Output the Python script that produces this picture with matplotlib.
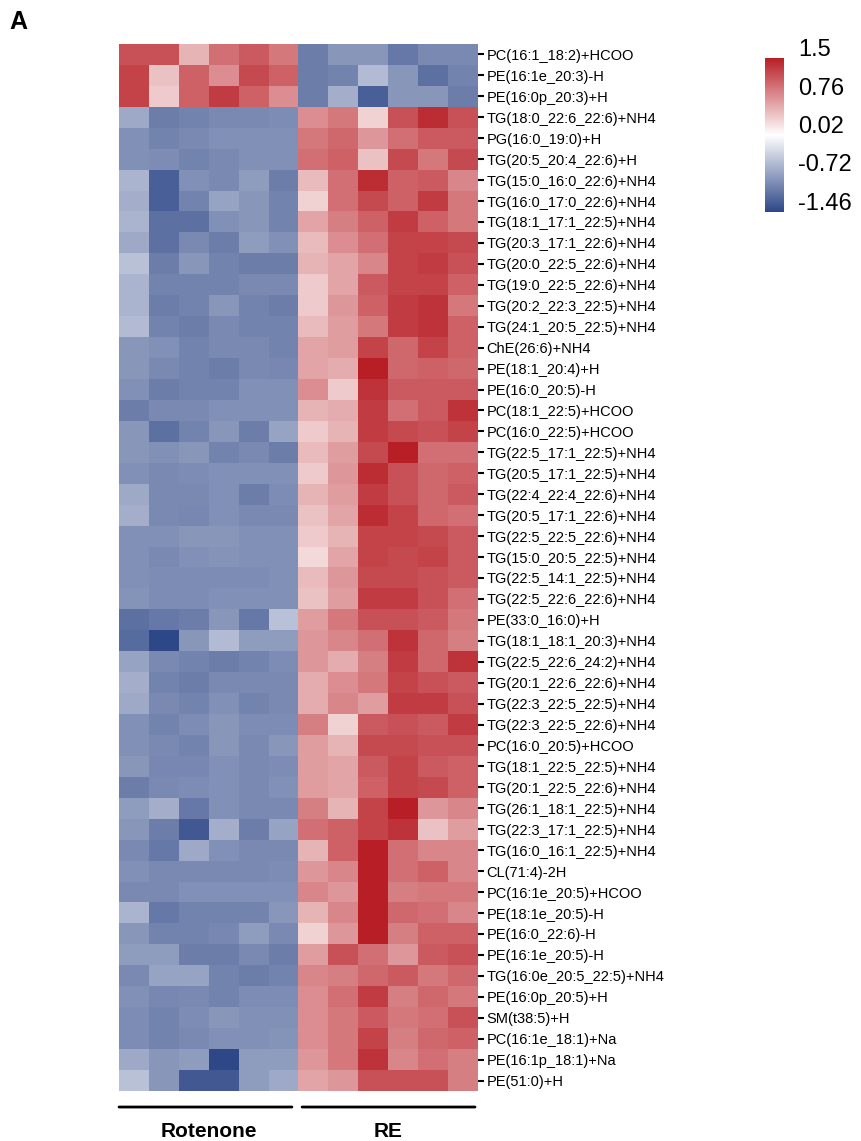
import numpy as np
import matplotlib
matplotlib.use("Agg")
import matplotlib.pyplot as plt
from matplotlib.colors import LinearSegmentedColormap, Normalize

plt.rcParams["font.family"] = ["Liberation Sans", "DejaVu Sans"]

# lipid names, top to bottom
lipids = [
    "PC(16:1_18:2)+HCOO", "PE(16:1e_20:3)-H", "PE(16:0p_20:3)+H",
    "TG(18:0_22:6_22:6)+NH4", "PG(16:0_19:0)+H", "TG(20:5_20:4_22:6)+H",
    "TG(15:0_16:0_22:6)+NH4", "TG(16:0_17:0_22:6)+NH4", "TG(18:1_17:1_22:5)+NH4",
    "TG(20:3_17:1_22:6)+NH4", "TG(20:0_22:5_22:6)+NH4", "TG(19:0_22:5_22:6)+NH4",
    "TG(20:2_22:3_22:5)+NH4", "TG(24:1_20:5_22:5)+NH4", "ChE(26:6)+NH4",
    "PE(18:1_20:4)+H", "PE(16:0_20:5)-H", "PC(18:1_22:5)+HCOO",
    "PC(16:0_22:5)+HCOO", "TG(22:5_17:1_22:5)+NH4", "TG(20:5_17:1_22:5)+NH4",
    "TG(22:4_22:4_22:6)+NH4", "TG(20:5_17:1_22:6)+NH4", "TG(22:5_22:5_22:6)+NH4",
    "TG(15:0_20:5_22:5)+NH4", "TG(22:5_14:1_22:5)+NH4", "TG(22:5_22:6_22:6)+NH4",
    "PE(33:0_16:0)+H", "TG(18:1_18:1_20:3)+NH4", "TG(22:5_22:6_24:2)+NH4",
    "TG(20:1_22:6_22:6)+NH4", "TG(22:3_22:5_22:5)+NH4", "TG(22:3_22:5_22:6)+NH4",
    "PC(16:0_20:5)+HCOO", "TG(18:1_22:5_22:5)+NH4", "TG(20:1_22:5_22:6)+NH4",
    "TG(26:1_18:1_22:5)+NH4", "TG(22:3_17:1_22:5)+NH4", "TG(16:0_16:1_22:5)+NH4",
    "CL(71:4)-2H", "PC(16:1e_20:5)+HCOO", "PE(18:1e_20:5)-H",
    "PE(16:0_22:6)-H", "PE(16:1e_20:5)-H", "TG(16:0e_20:5_22:5)+NH4",
    "PE(16:0p_20:5)+H", "SM(t38:5)+H", "PC(16:1e_18:1)+Na",
    "PE(16:1p_18:1)+Na", "PE(51:0)+H",
]

groups = ["Rotenone", "RE"]

# row z-scores, 6 Rotenone samples
rotenone = [
    [1.2, 1.2, 0.55, 1.0, 1.15, 0.95],
    [1.3, 0.45, 1.1, 0.8, 1.25, 1.1],
    [1.3, 0.4, 1.1, 1.35, 1.1, 0.8],
    [-0.65, -1.0, -0.95, -0.9, -0.9, -0.88],
    [-0.85, -0.95, -0.9, -0.85, -0.85, -0.85],
    [-0.85, -0.88, -0.95, -0.9, -0.85, -0.85],
    [-0.55, -1.25, -0.85, -0.9, -0.75, -1.0],
    [-0.6, -1.25, -0.95, -0.7, -0.8, -0.95],
    [-0.55, -1.1, -1.1, -0.85, -0.8, -0.95],
    [-0.65, -1.1, -0.9, -1.0, -0.75, -0.85],
    [-0.45, -1.0, -0.8, -0.95, -1.0, -1.0],
    [-0.55, -0.95, -0.95, -0.95, -0.9, -0.9],
    [-0.55, -1.0, -0.95, -0.8, -0.95, -1.0],
    [-0.5, -0.95, -1.0, -0.9, -0.95, -0.95],
    [-0.8, -0.85, -0.95, -0.9, -0.9, -0.95],
    [-0.8, -0.9, -0.95, -1.0, -0.9, -0.92],
    [-0.85, -1.0, -0.95, -0.95, -0.85, -0.85],
    [-1.0, -0.9, -0.9, -0.85, -0.85, -0.85],
    [-0.8, -1.1, -0.95, -0.8, -1.0, -0.7],
    [-0.8, -0.85, -0.8, -0.95, -0.9, -1.0],
    [-0.85, -0.9, -0.88, -0.85, -0.85, -0.85],
    [-0.65, -0.9, -0.9, -0.85, -1.0, -0.88],
    [-0.6, -0.9, -0.92, -0.85, -0.9, -0.9],
    [-0.85, -0.85, -0.8, -0.8, -0.85, -0.85],
    [-0.85, -0.9, -0.85, -0.82, -0.85, -0.85],
    [-0.85, -0.88, -0.88, -0.88, -0.88, -0.85],
    [-0.82, -0.88, -0.88, -0.85, -0.85, -0.85],
    [-1.1, -1.05, -1.0, -0.8, -1.05, -0.45],
    [-1.15, -1.45, -0.8, -0.5, -0.75, -0.75],
    [-0.7, -0.9, -0.95, -1.0, -0.95, -0.88],
    [-0.6, -0.95, -1.0, -0.9, -0.9, -0.9],
    [-0.65, -0.9, -0.95, -0.85, -0.95, -0.9],
    [-0.85, -0.95, -0.88, -0.8, -0.88, -0.88],
    [-0.85, -0.9, -0.95, -0.8, -0.9, -0.8],
    [-0.8, -0.92, -0.92, -0.85, -0.9, -0.88],
    [-1.0, -0.9, -0.88, -0.85, -0.9, -0.85],
    [-0.75, -0.6, -1.05, -0.85, -0.9, -0.9],
    [-0.8, -1.0, -1.3, -0.6, -1.0, -0.7],
    [-0.9, -1.05, -0.65, -0.85, -0.9, -0.9],
    [-0.85, -0.9, -0.9, -0.9, -0.9, -0.88],
    [-0.9, -0.9, -0.85, -0.85, -0.85, -0.85],
    [-0.55, -1.05, -0.95, -0.95, -0.95, -0.8],
    [-0.8, -0.95, -0.95, -0.92, -0.75, -0.9],
    [-0.75, -0.75, -1.0, -1.0, -0.9, -1.0],
    [-0.9, -0.7, -0.7, -0.95, -1.0, -0.95],
    [-0.85, -0.92, -0.9, -0.95, -0.88, -0.88],
    [-0.88, -0.95, -0.88, -0.8, -0.85, -0.85],
    [-0.88, -0.95, -0.9, -0.85, -0.85, -0.82],
    [-0.65, -0.8, -0.75, -1.55, -0.75, -0.75],
    [-0.45, -0.8, -1.3, -1.3, -0.75, -0.65],
]

# row z-scores, 6 RE samples
re_group = [
    [-1.0, -0.8, -0.8, -1.05, -0.9, -0.9],
    [-1.0, -0.95, -0.5, -0.8, -1.1, -0.95],
    [-1.0, -0.6, -1.25, -0.8, -0.8, -1.0],
    [0.8, 0.95, 0.35, 1.2, 1.45, 1.2],
    [0.95, 1.05, 0.75, 1.0, 1.15, 1.15],
    [1.0, 1.1, 0.45, 1.25, 0.95, 1.25],
    [0.5, 1.0, 1.45, 1.1, 1.15, 0.85],
    [0.35, 1.0, 1.25, 1.1, 1.35, 0.95],
    [0.65, 0.9, 1.1, 1.35, 1.1, 0.95],
    [0.5, 0.8, 1.0, 1.3, 1.3, 1.25],
    [0.55, 0.65, 0.85, 1.3, 1.35, 1.2],
    [0.4, 0.65, 1.15, 1.3, 1.3, 1.1],
    [0.4, 0.75, 1.1, 1.35, 1.4, 0.95],
    [0.5, 0.7, 0.95, 1.35, 1.4, 1.1],
    [0.65, 0.7, 1.3, 1.05, 1.3, 1.1],
    [0.65, 0.6, 1.55, 1.05, 1.1, 1.05],
    [0.8, 0.4, 1.4, 1.15, 1.15, 1.15],
    [0.55, 0.6, 1.35, 1.0, 1.15, 1.4],
    [0.4, 0.55, 1.35, 1.25, 1.2, 1.3],
    [0.5, 0.7, 1.25, 1.6, 1.0, 1.0],
    [0.4, 0.75, 1.45, 1.2, 1.05, 1.1],
    [0.55, 0.7, 1.35, 1.2, 1.05, 1.15],
    [0.45, 0.65, 1.45, 1.3, 1.05, 1.0],
    [0.4, 0.55, 1.3, 1.3, 1.25, 1.15],
    [0.3, 0.65, 1.3, 1.25, 1.3, 1.15],
    [0.5, 0.75, 1.25, 1.25, 1.2, 1.15],
    [0.45, 0.7, 1.35, 1.35, 1.2, 1.0],
    [0.7, 0.95, 1.2, 1.2, 1.15, 0.95],
    [0.75, 0.85, 1.0, 1.4, 1.05, 0.9],
    [0.75, 0.6, 0.9, 1.35, 1.05, 1.4],
    [0.6, 0.8, 0.95, 1.3, 1.2, 1.15],
    [0.6, 0.85, 0.7, 1.35, 1.35, 1.2],
    [0.9, 0.35, 1.15, 1.2, 1.15, 1.35],
    [0.7, 0.55, 1.25, 1.25, 1.2, 1.2],
    [0.7, 0.65, 1.15, 1.3, 1.15, 1.1],
    [0.7, 0.65, 1.1, 1.3, 1.25, 1.1],
    [0.9, 0.55, 1.3, 1.55, 0.75, 0.85],
    [1.0, 1.1, 1.3, 1.4, 0.45, 0.7],
    [0.55, 1.1, 1.65, 1.0, 0.85, 0.85],
    [0.75, 0.85, 1.55, 1.0, 1.1, 0.85],
    [0.85, 0.75, 1.6, 0.9, 0.95, 0.95],
    [0.55, 0.85, 1.55, 1.05, 1.0, 0.85],
    [0.35, 0.75, 1.65, 0.9, 1.1, 1.1],
    [0.7, 1.2, 1.0, 0.75, 1.15, 1.2],
    [0.85, 0.9, 1.05, 1.15, 0.95, 1.05],
    [0.8, 1.0, 1.35, 0.9, 1.05, 0.95],
    [0.8, 0.95, 1.15, 0.95, 1.0, 1.2],
    [0.8, 0.95, 1.3, 0.9, 1.05, 1.1],
    [0.75, 0.95, 1.4, 0.85, 1.0, 0.9],
    [0.65, 0.75, 1.2, 1.2, 1.2, 0.9],
]

legend_ticks = [1.5, 0.76, 0.02, -0.72, -1.46]

data = np.hstack([np.array(rotenone), np.array(re_group)])
n_rows, n_cols = data.shape

cmap = LinearSegmentedColormap.from_list("bwr_muted", ["#2e4787", "#ffffff", "#b81e26"])
norm = Normalize(vmin=-1.45, vmax=1.55)

W, H = 862, 1141
fig = plt.figure(figsize=(W / 100, H / 100), dpi=100)

# heatmap
ax = fig.add_axes([119 / W, 1 - 1091 / H, (478 - 119) / W, (1091 - 44) / H])
im = ax.imshow(data, cmap=cmap, norm=norm, aspect="auto", interpolation="nearest")
ax.set_xticks([])
ax.yaxis.tick_right()
ax.set_yticks(np.arange(n_rows))
ax.set_yticklabels(lipids, fontsize=10.5)
ax.tick_params(axis="y", length=4, width=1.5, pad=2)
for s in ax.spines.values():
    s.set_visible(False)

# group bars under the heatmap
for i, g in enumerate(groups):
    x0 = i * 6 - 0.5 + (0.12 if i == 1 else 0)
    x1 = x0 + 5.78
    ax.annotate("", xy=(x0, -0.0153), xytext=(x1, -0.0153), xycoords=("data", "axes fraction"),
                textcoords=("data", "axes fraction"),
                arrowprops=dict(arrowstyle="-", lw=2, color="black", shrinkA=0, shrinkB=0),
                annotation_clip=False)
    ax.text(i * 6 + 2.5, -0.039, g, transform=ax.get_xaxis_transform(),
            ha="center", va="center", fontsize=15, fontweight="bold")

# colour legend
cax = fig.add_axes([765 / W, 1 - 212 / H, 19 / W, 154 / H])
cb = fig.colorbar(im, cax=cax)
cb.outline.set_visible(False)
cax.set_yticks([])
# labels: 52 px per unit, 0.02 sits at 127 px
for v in legend_ticks:
    ypix = 127 - (v - 0.02) * 52
    cax.text(1.75, (212 - ypix) / 154, f"{v:g}", transform=cax.transAxes,
             ha="left", va="center", fontsize=17)

fig.text(9 / W, 1 - 22 / H, "A", fontsize=18, fontweight="bold", va="center", ha="left")

fig.savefig("out.png", dpi=100)
